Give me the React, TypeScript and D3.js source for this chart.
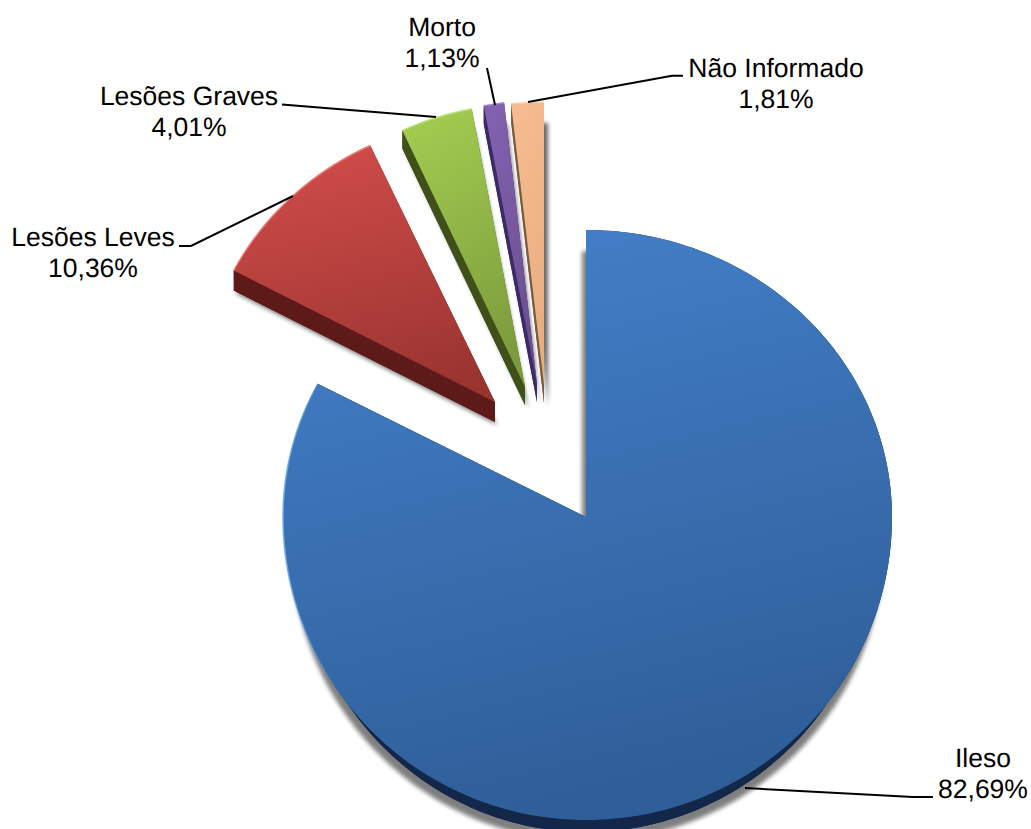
import React from "react";
import * as d3 from "d3";

// ---- data ----
const categories = ["Ileso", "Lesões Leves", "Lesões Graves", "Morto", "Não Informado"];
const shares = [82.69, 10.36, 4.01, 1.13, 1.81];
const shareLabels = ["82,69%", "10,36%", "4,01%", "1,13%", "1,81%"];

// ---- layout and style ----
const W = 1031;
const H = 829;
const apexX = [586, 495, 525, 537, 544];
const apexY = [517, 402, 387, 384, 385];
const radiusLeft = [303, 295, 290, 290, 290];
const radiusRight = [306, 295, 290, 290, 290];
const radiusUp = [287, 283, 283, 283, 283];
const radiusDown = [303, 283, 283, 283, 283];
const depth = [12, 20, 18, 18, 18];
const baseInset = [11, 0, 0, 0, 0];
const shadowDx = [-4, 2, 3, 3, 4];
const shadowDy = [9, 3, 3, 3, 3];
const shadowInset = [7, 0, 0, 0, 0];
const shadowOpacity = [0.5, 0.5, 0.55, 0.6, 0.6];
const topColor = ["#437fc8", "#d04c49", "#a2cb50", "#8261b0", "#f6bb8e"];
const bottomColor = ["#2e5d97", "#9a3431", "#7b9a3b", "#694d8e", "#e8ae80"];
const sideColor = ["#12274a", "#5e1a18", "#3f5119", "#3b2a63", "#7a5a3f"];
const rimColor = ["#6fb0f0", "#f07a76", "#c4e67a", "#a98ad8", "#ffd8b8"];
const labelX = [983, 93, 189, 442, 776];
const labelY = [767, 246, 105, 36, 77];
const leaderPts: [number, number][][] = [
  [[933, 797], [913, 797], [745, 788]],
  [[179, 246], [191, 246], [293, 196]],
  [[282, 104.5], [436, 117]],
  [[487, 68], [495, 105]],
  [[683, 75.7], [672, 75.7], [528, 102]],
];

const FONT = "'Liberation Sans', Arial, sans-serif";
type P = [number, number];

export default function App() {
  const arcs = d3.pie<number>().sort(null).value((d) => d)(shares);
  const line = d3.line<P>().x((d) => d[0]).y((d) => d[1]);

  const slices = arcs.map((a, i) => {
    const scaleX = (inset: number) =>
      d3.scaleLinear()
        .domain([-1, 0, 1])
        .range([apexX[i] - radiusLeft[i] + inset, apexX[i], apexX[i] + radiusRight[i] - inset]);
    const py = d3.scaleLinear()
      .domain([-1, 0, 1])
      .range([apexY[i] - radiusUp[i], apexY[i], apexY[i] + radiusDown[i]]);
    const step = Math.PI / 180;
    const angles = [...d3.range(a.startAngle, a.endAngle, step), a.endAngle];
    const rimAt = (inset: number, dy: number): P[] =>
      angles.map((t) => [scaleX(inset)(Math.sin(t)), py(-Math.cos(t)) + dy]);

    const rim = rimAt(0, 0);
    const d = depth[i];
    const rimBase = rimAt(baseInset[i], d);
    const tip: P = [apexX[i], apexY[i]];
    const tipBase: P = [tip[0], tip[1] + d];
    const n = rim.length - 1;

    const top = line([tip, ...rim])! + "Z";
    const base = line([tipBase, ...rimBase])! + "Z";
    const band = line([...rim, ...[...rimBase].reverse()])! + "Z";
    const edgeA = line([tip, rim[0], rimBase[0], tipBase])! + "Z";
    const edgeB = line([tip, rim[n], rimBase[n], tipBase])! + "Z";

    const dx = shadowDx[i];
    const dy = shadowDy[i];
    const rimShadow = rimAt(shadowInset[i], d + dy).map((p) => [i === 0 ? p[0] : p[0] + dx, p[1]] as P);
    const tipShadow: P = [tip[0] + dx, tip[1] + d + dy];
    const shadow = line(i === 0
      ? [tipShadow, [tipShadow[0], rimShadow[0][1]] as P, ...rimShadow]
      : [tipShadow, ...rimShadow])! + "Z";

    return { i, top, base, band, edgeA, edgeB, shadow, rimPath: line(rim)! };
  });

  return (
    <svg
      width={W}
      height={H}
      viewBox={`0 0 ${W} ${H}`}
      style={{ position: "absolute", left: 0, top: 0, display: "block", background: "#fff" }}
    >
      <defs>
        <filter
          id="soft"
          filterUnits="userSpaceOnUse"
          x={0}
          y={0}
          width={W}
          height={H + 40}
          colorInterpolationFilters="sRGB"
        >
          <feGaussianBlur stdDeviation={2} />
        </filter>
        {slices.map((s) => (
          <React.Fragment key={s.i}>
            <linearGradient id={`top${s.i}`} x1="0.3" y1="0" x2="0.55" y2="1">
              <stop offset="0" stopColor={topColor[s.i]} />
              <stop offset="1" stopColor={bottomColor[s.i]} />
            </linearGradient>
            {s.i === 0 ? (
              <linearGradient id="rim0" x1="0" y1="0" x2="1" y2="0">
                <stop offset="0" stopColor={rimColor[0]} stopOpacity={0.9} />
                <stop offset="0.1" stopColor={rimColor[0]} stopOpacity={0} />
              </linearGradient>
            ) : (
              <linearGradient id={`rim${s.i}`} x1="0" y1="0" x2="0" y2="1">
                <stop offset="0" stopColor={rimColor[s.i]} stopOpacity={0.9} />
                <stop offset="1" stopColor={rimColor[s.i]} stopOpacity={0.8} />
              </linearGradient>
            )}
          </React.Fragment>
        ))}
      </defs>

      {slices.map((s) => (
        <g key={s.i}>
          <path d={s.shadow} fill="#000" opacity={shadowOpacity[s.i]} filter="url(#soft)" />
          <g fill={sideColor[s.i]}>
            <path d={s.base} />
            <path d={s.band} />
            <path d={s.edgeA} />
            <path d={s.edgeB} />
          </g>
          <path d={s.top} fill={`url(#top${s.i})`} />
          <path d={s.rimPath} fill="none" stroke={`url(#rim${s.i})`} strokeWidth={1.6} />
        </g>
      ))}

      {leaderPts.map((pts, i) => (
        <path key={i} d={line(pts)!} fill="none" stroke="#000" strokeWidth={2} />
      ))}

      {categories.map((c, i) => (
        <text
          key={c}
          fontFamily={FONT}
          fontSize={26.5}
          fill="#000"
          textAnchor="middle"
          style={{ textRendering: "geometricPrecision" }}
        >
          <tspan x={labelX[i]} y={labelY[i]}>{c}</tspan>
          <tspan x={labelX[i]} y={labelY[i] + 31}>{shareLabels[i]}</tspan>
        </text>
      ))}
    </svg>
  );
}
